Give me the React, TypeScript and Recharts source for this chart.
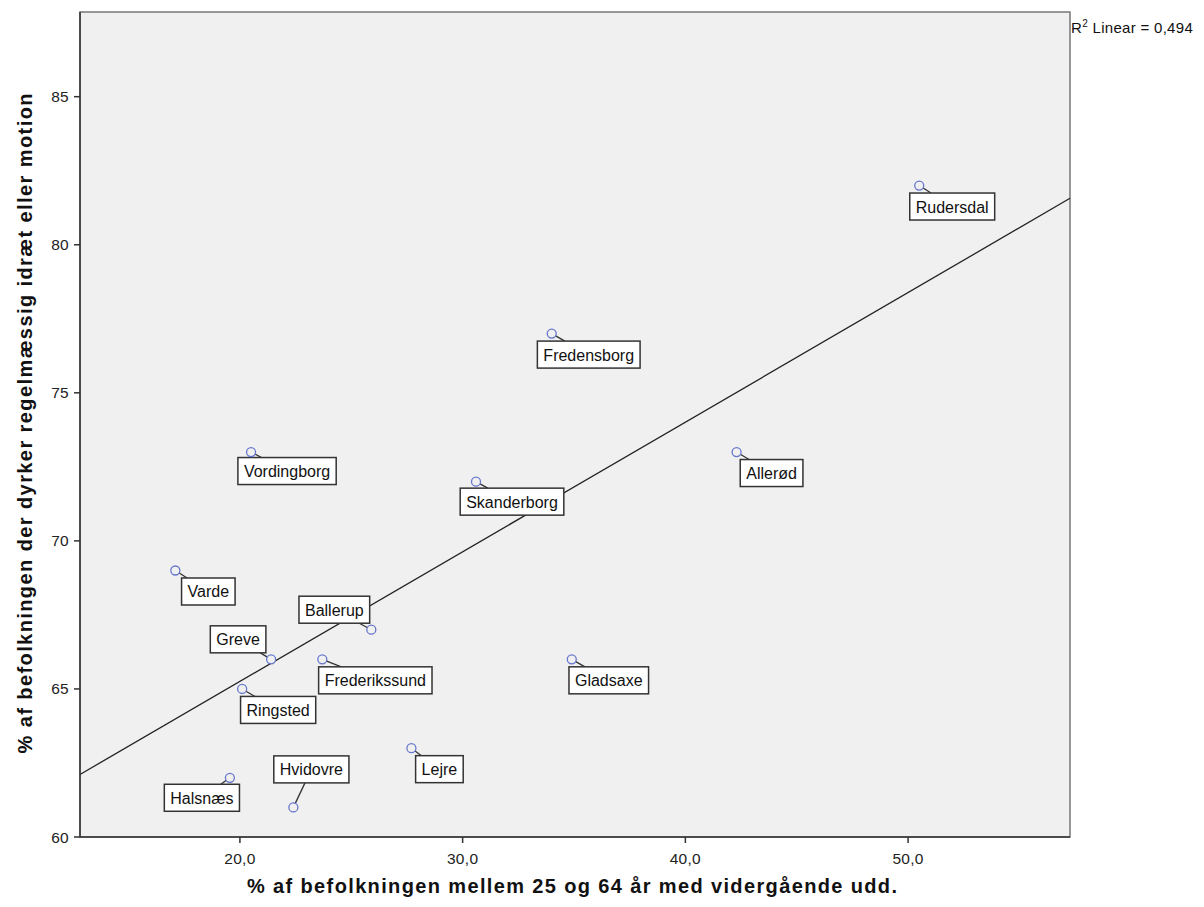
import React from "react";
import { ScatterChart, Scatter, XAxis, YAxis, ReferenceArea, ReferenceLine } from "recharts";

const NAMES = ["Rudersdal", "Fredensborg", "Allerød", "Vordingborg", "Skanderborg", "Varde", "Ballerup", "Greve", "Frederikssund", "Gladsaxe", "Ringsted", "Lejre", "Halsnæs", "Hvidovre"];
const EDU = [50.5, 34.0, 42.3, 20.5, 30.6, 17.1, 25.9, 21.4, 23.7, 34.9, 20.1, 27.7, 19.55, 22.4];
const SPORT = [82, 77, 73, 73, 72, 69, 67, 66, 66, 66, 65, 63, 62, 61];
const X_TICKS = [20, 30, 40, 50];
const Y_TICKS = [60, 65, 70, 75, 80, 85];

const X_TITLE = "% af befolkningen mellem 25 og 64 år med vidergående udd.";
const Y_TITLE = "% af befolkningen der dyrker regelmæssig idræt eller motion";

// label box centre relative to the point (px)
const LABEL_OFFSET: Record<string, [number, number]> = {
  Rudersdal: [33, 21],
  Fredensborg: [37, 21],
  "Allerød": [35, 21],
  Vordingborg: [36, 19],
  Skanderborg: [36, 20],
  Varde: [33, 21],
  Ballerup: [-37, -20],
  Greve: [-33, -20],
  Frederikssund: [53, 21],
  Gladsaxe: [37, 21],
  Ringsted: [36, 21],
  Lejre: [28, 21],
  "Halsnæs": [-28, 20],
  Hvidovre: [18, -38],
};

const X_MIN = 12.82;
const X_MAX = 57.27;
const Y_MIN = 60;
const Y_MAX = 87.86;

const data = NAMES.map((name, i) => ({ name, x: EDU[i], y: SPORT[i] }));

// least squares fit
const n = EDU.length;
const mx = EDU.reduce((a, b) => a + b, 0) / n;
const my = SPORT.reduce((a, b) => a + b, 0) / n;
let sxy = 0;
let sxx = 0;
let syy = 0;
for (let i = 0; i < n; i++) {
  sxy += (EDU[i] - mx) * (SPORT[i] - my);
  sxx += (EDU[i] - mx) ** 2;
  syy += (SPORT[i] - my) ** 2;
}
const slope = sxy / sxx;
const icept = my - slope * mx;
const r2 = (sxy * sxy) / (sxx * syy);

const FONT = "'Liberation Sans', Arial, sans-serif";

let ctx: CanvasRenderingContext2D | null = null;
function textWidth(t: string) {
  if (!ctx) ctx = document.createElement("canvas").getContext("2d");
  if (!ctx) return t.length * 8;
  ctx.font = `16px 'Liberation Sans', Arial, sans-serif`;
  return ctx.measureText(t).width;
}

const PointShape = (props: any) => {
  const { cx, cy, payload } = props;
  const [dx, dy] = LABEL_OFFSET[payload.name] || [30, 20];
  const w = textWidth(payload.name) + 12;
  const h = 27;
  const lx = cx + dx;
  const ly = cy + dy;
  // leader: from point towards box centre, stop at box edge
  const vx = lx - cx;
  const vy = ly - cy;
  const tx = Math.abs(vx) > 0 ? (Math.abs(vx) - w / 2) / Math.abs(vx) : 1;
  const ty = Math.abs(vy) > 0 ? (Math.abs(vy) - h / 2) / Math.abs(vy) : 1;
  const t = Math.max(tx, ty);
  return (
    <g>
      <line x1={cx} y1={cy} x2={cx + vx * t} y2={cy + vy * t} stroke="#333" strokeWidth={1.3} />
      <rect x={lx - w / 2} y={ly - h / 2} width={w} height={h} fill="#fff" stroke="#333" strokeWidth={1.5} />
      <text x={lx} y={ly + 6} textAnchor="middle" fontSize={16} fontFamily={FONT} fill="#111">
        {payload.name}
      </text>
      <circle cx={cx} cy={cy} r={4.5} fill="#f0f0f0" stroke="#6677cc" strokeWidth={1.3} />
    </g>
  );
};

const XTick = (props: any) => {
  const { x, y, payload } = props;
  return (
    <text x={x} y={y + 19} textAnchor="middle" fontSize={15.5} fontFamily={FONT} fill="#222" letterSpacing={0.3}>
      {payload.value.toFixed(1).replace(".", ",")}
    </text>
  );
};

const YTick = (props: any) => {
  const { x, y, payload } = props;
  return (
    <text x={x - 3} y={y + 5.5} textAnchor="end" fontSize={15.5} fontFamily={FONT} fill="#222" letterSpacing={0.3}>
      {payload.value}
    </text>
  );
};

const XTitle = (props: any) => {
  const vb = props.viewBox || { x: 80, width: 990 };
  return (
    <text x={vb.x + vb.width / 2 - 3} y={893} textAnchor="middle" fontSize={20} fontWeight="bold" fontFamily={FONT} fill="#111" textLength={650} lengthAdjust="spacing">
      {X_TITLE}
    </text>
  );
};

const YTitle = (props: any) => {
  const vb = props.viewBox || { y: 12, height: 825 };
  const cy = vb.y + vb.height / 2 - 1;
  return (
    <text x={32} y={cy} transform={`rotate(-90 32 ${cy})`} textAnchor="middle" fontSize={20} fontWeight="bold" fontFamily={FONT} fill="#111" textLength={660} lengthAdjust="spacing">
      {Y_TITLE}
    </text>
  );
};

export default function App() {
  return (
    <div style={{ position: "absolute", left: 0, top: 0, width: 1204, height: 907, background: "#fff" }}>
      <ScatterChart width={1204} height={907} margin={{ top: 12, right: 134, bottom: 0, left: 0 }}>
        <ReferenceArea x1={X_MIN} x2={X_MAX} y1={Y_MIN} y2={Y_MAX} fill="#f0f0f0" fillOpacity={1} stroke="#777" strokeWidth={1.5} />
        <XAxis
          type="number"
          dataKey="x"
          domain={[X_MIN, X_MAX]}
          ticks={X_TICKS}
          height={70}
          axisLine={{ stroke: "#333", strokeWidth: 1.5 }}
          tickLine={{ stroke: "#333", strokeWidth: 1.5 }}
          tickSize={6}
          tick={XTick}
          allowDataOverflow
          label={<XTitle />}
        />
        <YAxis
          type="number"
          dataKey="y"
          domain={[Y_MIN, Y_MAX]}
          ticks={Y_TICKS}
          width={80}
          axisLine={{ stroke: "#333", strokeWidth: 1.5 }}
          tickLine={{ stroke: "#333", strokeWidth: 1.5 }}
          tickSize={6}
          tick={YTick}
          allowDataOverflow
          label={<YTitle />}
        />
        <Scatter data={data} shape={PointShape} isAnimationActive={false} />
        <ReferenceLine
          segment={[
            { x: X_MIN, y: icept + slope * X_MIN },
            { x: X_MAX, y: icept + slope * X_MAX },
          ]}
          stroke="#222"
          strokeWidth={1.3}
        />
      </ScatterChart>
      <div style={{ position: "absolute", left: 1071, top: 18, fontFamily: FONT, fontSize: 15, color: "#111", whiteSpace: "nowrap", letterSpacing: 0.3 }}>
        R<sup style={{ fontSize: 10 }}>2</sup> Linear = {r2.toFixed(3).replace(".", ",")}
      </div>
    </div>
  );
}
